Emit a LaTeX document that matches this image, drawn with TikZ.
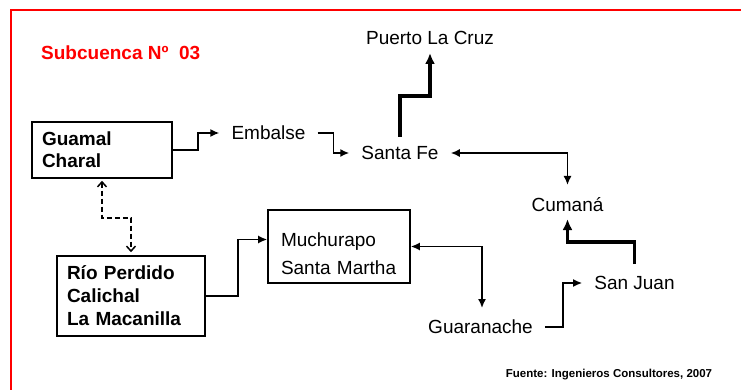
\documentclass[tikz,border=0pt]{standalone}
\usepackage{fontspec}
\setmainfont{Liberation Sans}
\usetikzlibrary{arrows.meta}

\begin{document}
\begin{tikzpicture}
	[
	 x = 1pt, y = -1pt,
	 every node/.style = {font=\fontsize{19}{22}\selectfont},
	 box/.style  = {shape=rectangle,
	                draw,
	                line width = 1.6pt,
	                align = left,
	                inner xsep = 10pt,
	                inner ysep = 0pt},
	 bold/.style  = {font=\fontsize{19}{22}\selectfont\bfseries},
	 place/.style = {inner sep = 2pt,
	                 text height = 13.6pt,
	                 text depth = 0pt},
	 frame/.style = {draw = red, line width = 2pt},
	 arr/.style  = {-{Latex[length=9pt,width=8pt]}, line width = 1.6pt},
	 arr2/.style = {{Latex[length=9pt,width=8pt]}-{Latex[length=9pt,width=8pt]}, line width = 1.6pt},
	 thk/.style  = {-{Latex[length=11pt,width=10pt]}, line width = 3.6pt},
	 dsh/.style  = {{Straight Barb[length=5pt,width=9pt]}-{Straight Barb[length=5pt,width=9pt]},
	                dash pattern = on 5pt off 3pt,
	                line width = 1.5pt}
	]
	
	\newcommand{\GC}{Guamal\\Charal}
	\newcommand{\RP}{Río Perdido\\Calichal\\La Macanilla}
	\newcommand{\MS}{\rule{0pt}{27.6pt}Muchurapo\\Santa Martha}
	
	\useasboundingbox (0,0) rectangle (741,390);
	\clip (0,0) rectangle (741,390);
	\draw [frame] (11,10) rectangle (770,420);
	
	\node [anchor=west, inner sep=0pt, text=red, bold] (T) at (41,53) {Subcuenca Nº\ \ 03};
	
	\node [box, bold, text width=120pt, minimum height=56pt] (GC) at (102,150) {\GC};
	\node [box, text width=128pt, minimum height=80pt,
	       font=\fontsize{19}{23}\selectfont\bfseries] (RP) at (131,296) {\RP};
	\node [box, text width=116pt, inner xsep=13pt, minimum height=73pt,
	       font=\fontsize{19}{28}\selectfont] (MS) at (339,246.5) {\MS};
	
	\node [place] (Emb) at (268.5,133) {Embalse};
	\node [place] (SF)  at (400,153)   {Santa Fe};
	\node [place] (PLC) at (430,38)    {Puerto La Cruz};
	\node [place] (Cum) at (567.5,205) {Cumaná};
	\node [place] (SJ)  at (634.5,283) {San Juan};
	\node [place] (Gua) at (480.5,327) {Guaranache};
	
	\node [font=\fontsize{11.5}{13}\selectfont\bfseries] (F) at (609,375) {Fuente: Ingenieros Consultores, 2007};
	
	\draw [arr]  (GC.east) -- ++(25,0) |- ([xshift=-10pt]Emb.west);
	\draw [arr]  ([xshift=10pt]Emb.east) -- ++(16,0) |- ([xshift=-10pt]SF.west);
	\draw [thk]  ([yshift=7pt]SF.north) -- ++(0,-41) -| ([yshift=-6pt]PLC.south);
	\draw [arr2] ([xshift=10pt]SF.east) -| ([yshift=11pt]Cum.north);
	\draw [thk]  ([yshift=10pt]SJ.north) -- ++(0,-22) -| ([yshift=-5pt]Cum.south);
	\draw [arr]  ([xshift=10pt]Gua.east) -- ++(18,0) |- ([xshift=-10pt]SJ.west);
	\draw [arr2] (MS.east) -| ([xshift=1.5pt,yshift=10pt]Gua.north);
	\draw [arr]  (RP.east) -- ++(32,0) |- ([yshift=7pt]MS.west);
	\draw [dsh]  ([yshift=-2pt]GC.south) -- ++(0,37) -| ([yshift=3pt]RP.north);
\end{tikzpicture}
\end{document}
